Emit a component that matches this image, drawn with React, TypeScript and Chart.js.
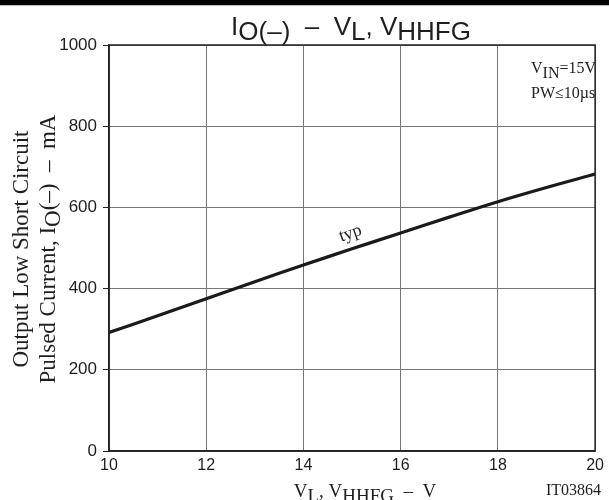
import React, { useEffect, useRef } from "react";
import { Chart, registerables } from "chart.js";

Chart.register(...registerables);

const voltages = [10, 11, 12, 13, 14, 15, 16, 17, 18, 19, 20];
const currents = [292, 333, 375, 417, 458, 498, 537, 576, 614, 649, 682];
const xTicks = [10, 12, 14, 16, 18, 20];
const yTicks = [0, 200, 400, 600, 800, 1000];

type Seg = { t: string; sub?: boolean };

const titleSegs: Seg[] = [
  { t: "I" },
  { t: "O(–)", sub: true },
  { t: "  –  V" },
  { t: "L", sub: true },
  { t: ", V" },
  { t: "HHFG", sub: true },
];
const yTitle1: Seg[] = [{ t: "Output Low Short Circuit" }];
const yTitle2: Seg[] = [
  { t: "Pulsed Current, I" },
  { t: "O", sub: true },
  { t: "(–)  –  mA" },
];
const xTitleSegs: Seg[] = [
  { t: "V" },
  { t: "L", sub: true },
  { t: ", V" },
  { t: "HHFG", sub: true },
  { t: "  –  V" },
];
const noteLine1: Seg[] = [{ t: "V" }, { t: "IN", sub: true }, { t: "=15V" }];
const noteLine2 = "PW≤10µs";
const curveLabel = "typ";
const figureCode = "IT03864";

function drawRich(
  ctx: CanvasRenderingContext2D,
  segs: Seg[],
  x: number,
  y: number,
  align: "left" | "center" | "right",
  subShift: number
) {
  const total = segs.reduce((w, s) => w + ctx.measureText(s.t).width, 0);
  let cx = align === "center" ? x - total / 2 : align === "right" ? x - total : x;
  ctx.textAlign = "left";
  for (const s of segs) {
    ctx.fillText(s.t, cx, y + (s.sub ? subShift : 0));
    cx += ctx.measureText(s.t).width;
  }
}

const SANS = "'Liberation Sans', Arial, sans-serif";
const SERIF = "'Liberation Serif', 'Times New Roman', serif";
const TEXT = "#1e1e1e";

const decorPlugin = {
  id: "decor",
  afterDraw(chart: any) {
    const ctx: CanvasRenderingContext2D = chart.ctx;
    const a = chart.chartArea;
    ctx.save();
    // top bar
    ctx.fillStyle = "#000";
    ctx.fillRect(0, 0, chart.width, 5);
    ctx.fillStyle = "#bbb";
    ctx.fillRect(0, 5, chart.width, 1);
    // frame
    ctx.strokeStyle = "#222";
    ctx.lineWidth = 1.5;
    ctx.strokeRect(a.left, a.top, a.right - a.left, a.bottom - a.top);

    ctx.fillStyle = TEXT;
    ctx.textBaseline = "alphabetic";
    // title
    ctx.font = `26px ${SANS}`;
    drawRich(ctx, titleSegs, 351, 35, "center", 5);

    // y title
    ctx.font = `23px ${SERIF}`;
    ctx.save();
    ctx.translate(28, 249);
    ctx.rotate(-Math.PI / 2);
    drawRich(ctx, yTitle1, 0, 0, "center", 0);
    ctx.restore();
    ctx.save();
    ctx.translate(55, 249);
    ctx.rotate(-Math.PI / 2);
    drawRich(ctx, yTitle2, 0, 0, "center", 5);
    ctx.restore();

    // x title
    ctx.font = `19px ${SERIF}`;
    drawRich(ctx, xTitleSegs, 365, 497, "center", 5);

    // figure code
    ctx.font = `16px ${SERIF}`;
    drawRich(ctx, [{ t: figureCode }], 601, 495, "right", 0);

    // note
    ctx.font = `16px ${SERIF}`;
    drawRich(ctx, noteLine1, 531, 73, "left", 5);
    drawRich(ctx, [{ t: noteLine2 }], 531, 98, "left", 0);

    // typ label
    ctx.save();
    ctx.translate(352, 238);
    ctx.rotate(-0.34);
    ctx.font = `18px ${SERIF}`;
    ctx.textAlign = "center";
    ctx.fillText(curveLabel, 0, 0);
    ctx.restore();

    ctx.restore();
  },
};

export default function App() {
  const ref = useRef<HTMLCanvasElement | null>(null);
  useEffect(() => {
    document.body.style.margin = "0";
    const canvas = ref.current!;
    const chart = new Chart(canvas, {
      type: "line",
      data: {
        datasets: [
          {
            data: voltages.map((v, i) => ({ x: v, y: currents[i] })),
            borderColor: "#1a1a1a",
            borderWidth: 3.2,
            pointRadius: 0,
            tension: 0.4,
            fill: false,
          },
        ],
      },
      options: {
        animation: false,
        responsive: false,
        devicePixelRatio: 1,
        layout: { padding: { top: 45, right: 10, left: 0, bottom: 0 } },
        plugins: { legend: { display: false }, tooltip: { enabled: false }, title: { display: false } },
        scales: {
          x: {
            type: "linear",
            min: 10,
            max: 20,
            afterBuildTicks: (s: any) => {
              s.ticks = xTicks.map((v) => ({ value: v }));
            },
            afterFit: (s: any) => {
              s.height = 49;
            },
            ticks: {
              font: { family: SANS, size: 16 },
              color: TEXT,
              padding: 5,
              maxRotation: 0,
              callback: (v: any) => String(v),
            },
            grid: { color: "#777", lineWidth: 1, drawTicks: false },
            border: { color: "#222", width: 1.5 },
          },
          y: {
            type: "linear",
            min: 0,
            max: 1000,
            afterBuildTicks: (s: any) => {
              s.ticks = yTicks.map((v) => ({ value: v }));
            },
            afterFit: (s: any) => {
              s.width = 109;
            },
            ticks: {
              font: { family: SANS, size: 17 },
              color: TEXT,
              padding: 6,
              callback: (v: any) => String(v),
            },
            grid: { color: "#777", lineWidth: 1, tickLength: 6, tickColor: "#222" },
            border: { color: "#222", width: 1.5 },
          },
        },
      },
      plugins: [decorPlugin],
    } as any);
    return () => chart.destroy();
  }, []);
  return <canvas ref={ref} width={609} height={500} style={{ display: "block", width: 609, height: 500 }} />;
}
